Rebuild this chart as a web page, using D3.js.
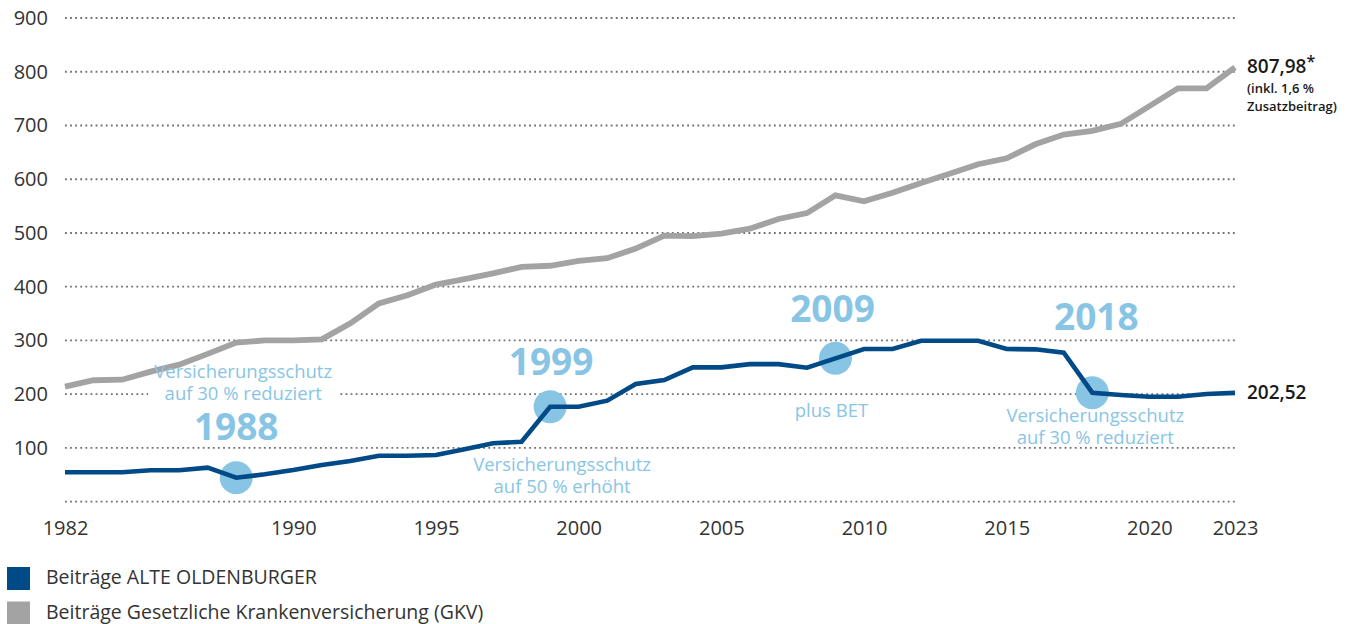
<!DOCTYPE html>
<html>
<head>
<meta charset="utf-8">
<script src="https://cdn.jsdelivr.net/npm/d3@7"></script>
<style>
  html, body { margin: 0; padding: 0; background: #fff; }
  svg { display: block; font-family: "Open Sans", "Noto Sans", sans-serif; }
</style>
</head>
<body>
<svg id="chart" width="1348" height="624"></svg>
<script>
// ---- data -------------------------------------------------------------
const years = [1982, 1983, 1984, 1985, 1986, 1987, 1988, 1989, 1990, 1991,
               1992, 1993, 1994, 1995, 1996, 1997, 1998, 1999, 2000, 2001,
               2002, 2003, 2004, 2005, 2006, 2007, 2008, 2009, 2010, 2011,
               2012, 2013, 2014, 2015, 2016, 2017, 2018, 2019, 2020, 2021,
               2022, 2023];

// monthly contributions, EUR
const gkvValues = [214, 226, 227, 242, 255, 275, 296, 300, 300, 302,
                   332, 369, 384, 404, 414, 425, 437, 439, 448, 453,
                   471, 495, 494, 499, 508, 526, 537, 570, 559, 575,
                   593, 610, 628, 639, 665, 683, 690, 703, 736, 769,
                   769, 807.98];

const alteValues = [54.7, 54.7, 54.7, 58.4, 58.4, 63.3, 44.7, 51.0, 59.0, 68.3,
                    75.7, 85.6, 85.6, 86.9, 97.5, 108.7, 111.6, 176.7, 176.7, 188.0,
                    219.0, 226.4, 250.0, 250.0, 256.0, 256.0, 249.3, 266.8, 284.0, 284.0,
                    299.5, 299.5, 299.5, 284.0, 283.5, 277.3, 202.8, 198.5, 195.3, 195.3,
                    200.4, 202.52];

const yTickValues = [100, 200, 300, 400, 500, 600, 700, 800, 900];
const gridValues = [0, 100, 200, 300, 400, 500, 600, 700, 800, 900];
const xTickYears = [1982, 1990, 1995, 2000, 2005, 2010, 2015, 2020, 2023];

const eventYears = [1988, 1999, 2009, 2018];
const eventNotes = [
  ["Versicherungsschutz", "auf 30 % reduziert"],
  ["Versicherungsschutz", "auf 50 % erhöht"],
  ["plus BET"],
  ["Versicherungsschutz", "auf 30 % reduziert"]
];

const gkvEndLabel = "807,98";
const gkvEndNote = ["(inkl. 1,6 %", "Zusatzbeitrag)"];
const alteEndLabel = "202,52";

const legendLabels = ["Beiträge ALTE OLDENBURGER",
                      "Beiträge Gesetzliche Krankenversicherung (GKV)"];

// ---- styles -----------------------------------------------------------
const C = {
  blue: "#004a87",
  grey: "#a3a3a3",
  accent: "#88c5e5",
  grid: "#6f6f6f",
  text: "#333333",
  dark: "#1a1a1a"
};

// placement of each event's texts relative to its point on the line
const eventLayout = [
  { yearDx: 0,  yearDy: -38, noteDx: 7,  noteDy: -100, mask: true },
  { yearDx: 1,  yearDy: -32, noteDx: 12, noteDy: 64,   mask: false },
  { yearDx: -3, yearDy: -36, noteDx: -4, noteDy: 59,   mask: false },
  { yearDx: 4,  yearDy: -63, noteDx: 3,  noteDy: 29,   mask: false }
];

// ---- scales -----------------------------------------------------------
const x = d3.scaleLinear().domain([1982, 2023]).range([65, 1235]);
const y = d3.scaleLinear().domain([0, 900]).range([501.7, 18]);

const svg = d3.select("#chart");

// dotted grid lines
svg.append("g")
  .selectAll("line")
  .data(gridValues)
  .join("line")
  .attr("x1", x.range()[0])
  .attr("x2", x.range()[1])
  .attr("y1", d => y(d))
  .attr("y2", d => y(d))
  .attr("stroke", C.grid)
  .attr("stroke-width", 1.8)
  .attr("stroke-dasharray", "1.8 3.3");

// y axis labels
svg.append("g")
  .attr("transform", "translate(48,0)")
  .call(d3.axisLeft(y).tickValues(yTickValues).tickSize(0).tickPadding(0).tickFormat(d3.format("d")))
  .call(g => g.select(".domain").remove())
  .attr("font-family", null)
  .attr("font-size", 20)
  .selectAll("text").attr("fill", C.text);

// x axis labels
svg.append("g")
  .attr("transform", "translate(0,521)")
  .call(d3.axisBottom(x).tickValues(xTickYears).tickSize(0).tickPadding(0).tickFormat(d3.format("d")))
  .call(g => g.select(".domain").remove())
  .attr("font-family", null)
  .attr("font-size", 20)
  .selectAll("text").attr("fill", C.text);

// layers: text backing, lines, annotation texts
const notesBg = svg.append("g");
const lineLayer = svg.append("g");
const notesFg = svg.append("g");

const line = d3.line()
  .x((d, i) => x(years[i]))
  .y(d => y(d));

lineLayer.append("path")
  .datum(gkvValues)
  .attr("fill", "none")
  .attr("stroke", C.grey)
  .attr("stroke-width", 5.8)
  .attr("stroke-linejoin", "miter")
  .attr("d", line);

// event markers beneath the ALTE OLDENBURGER line
const events = eventYears.map((yr, i) => ({
  year: yr,
  value: alteValues[years.indexOf(yr)],
  notes: eventNotes[i],
  layout: eventLayout[i]
}));

lineLayer.append("g")
  .selectAll("circle")
  .data(events)
  .join("circle")
  .attr("cx", d => x(d.year))
  .attr("cy", d => y(d.value))
  .attr("r", 16.5)
  .attr("fill", C.accent);

lineLayer.append("path")
  .datum(alteValues)
  .attr("fill", "none")
  .attr("stroke", C.blue)
  .attr("stroke-width", 4.6)
  .attr("stroke-linejoin", "miter")
  .attr("d", line);

// event texts
events.forEach(ev => {
  const px = x(ev.year), py = y(ev.value), L = ev.layout;

  notesFg.append("text")
    .attr("x", px + L.yearDx)
    .attr("y", py + L.yearDy)
    .attr("text-anchor", "middle")
    .attr("font-size", 37)
    .attr("font-weight", 700)
    .attr("fill", C.accent)
    .text(ev.year);

  const block = notesFg.append("text")
    .attr("text-anchor", "middle")
    .attr("font-size", 18.5)
    .attr("fill", C.accent);
  ev.notes.forEach((t, k) => {
    block.append("tspan")
      .attr("x", px + L.noteDx)
      .attr("y", py + L.noteDy + k * 22.3)
      .text(t);
  });

  if (L.mask) {
    const bb = block.node().getBBox();
    notesBg.append("rect")
      .attr("x", bb.x - 6)
      .attr("y", bb.y + 4)
      .attr("width", bb.width + 12)
      .attr("height", bb.height - 4)
      .attr("fill", "#fff");
  }
});

// end-of-line values
const last = years.length - 1;
const gEnd = svg.append("g").attr("fill", C.dark);

const gkvLbl = gEnd.append("text")
  .attr("x", x(years[last]) + 12)
  .attr("y", y(gkvValues[last]) + 6)
  .attr("font-size", 19)
  .attr("font-weight", 600);
gkvLbl.append("tspan").text(gkvEndLabel);
gkvLbl.append("tspan").attr("dy", -6).attr("font-size", 16).text("*");

const gkvNote = gEnd.append("text")
  .attr("font-size", 13)
  .attr("font-weight", 600);
gkvEndNote.forEach((t, k) => {
  gkvNote.append("tspan")
    .attr("x", x(years[last]) + 12)
    .attr("y", y(gkvValues[last]) + 26 + k * 18)
    .text(t);
});

gEnd.append("text")
  .attr("x", x(years[last]) + 12)
  .attr("y", y(alteValues[last]) + 6.5)
  .attr("font-size", 19)
  .attr("font-weight", 600)
  .text(alteEndLabel);

// legend
const legend = svg.append("g").attr("transform", "translate(7,567)");
const legendColors = [C.blue, C.grey];
const rows = legend.selectAll("g")
  .data(legendLabels)
  .join("g")
  .attr("transform", (d, i) => `translate(0,${i * 34.5})`);
rows.append("rect")
  .attr("width", 23)
  .attr("height", 23)
  .attr("fill", (d, i) => legendColors[i]);
rows.append("text")
  .attr("x", 39)
  .attr("y", 10.5)
  .attr("dy", "0.35em")
  .attr("font-size", 19.5)
  .attr("fill", C.text)
  .text(d => d);
</script>
</body>
</html>
